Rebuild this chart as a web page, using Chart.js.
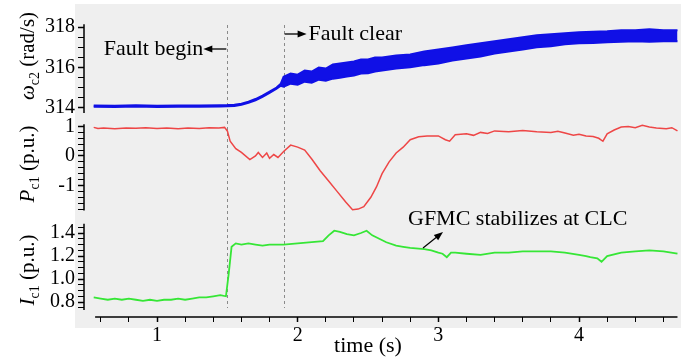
<!DOCTYPE html>
<html>
<head>
<meta charset="utf-8">
<script src="https://cdn.jsdelivr.net/npm/chart.js@4/dist/chart.umd.min.js"></script>
<style>
  html, body { margin: 0; background: #fff; }
</style>
</head>
<body>
<canvas id="grafico" width="686" height="364"></canvas>
<script>
// omega_c2 (rad/s): band of the fast oscillation, lower and upper edge
const tOmega = [0.55, 0.7, 0.85, 1.0, 1.15, 1.3, 1.45, 1.5, 1.55, 1.6, 1.65, 1.7, 1.75, 1.8, 1.85, 1.88, 1.9, 1.95, 2.0, 2.05, 2.1, 2.15, 2.2, 2.25, 2.3, 2.35, 2.4, 2.45, 2.5, 2.55, 2.6, 2.7, 2.8, 2.9, 3.0, 3.1, 3.2, 3.3, 3.4, 3.5, 3.6, 3.7, 3.8, 3.9, 4.0, 4.1, 4.2, 4.3, 4.4, 4.5, 4.6, 4.7];
const omegaLow = [314.06, 314.05, 314.07, 314.05, 314.06, 314.06, 314.07, 314.08, 314.1, 314.15, 314.25, 314.38, 314.55, 314.75, 314.95, 315.1, 315.05, 315.2, 315.15, 315.3, 315.25, 315.4, 315.35, 315.45, 315.5, 315.55, 315.6, 315.7, 315.72, 315.8, 315.85, 315.95, 316.02, 316.12, 316.2, 316.35, 316.45, 316.55, 316.7, 316.8, 316.9, 317.0, 317.05, 317.15, 317.2, 317.22, 317.25, 317.28, 317.3, 317.28, 317.3, 317.3];
const omegaHigh = [314.12, 314.11, 314.13, 314.11, 314.12, 314.12, 314.13, 314.14, 314.16, 314.21, 314.31, 314.44, 314.61, 314.81, 315.01, 315.2, 315.55, 315.7, 315.65, 315.85, 315.8, 316.0, 315.95, 316.15, 316.2, 316.25, 316.3, 316.4, 316.4, 316.5, 316.5, 316.6, 316.65, 316.8, 316.9, 317.0, 317.1, 317.2, 317.3, 317.4, 317.5, 317.6, 317.65, 317.7, 317.75, 317.78, 317.8, 317.85, 317.85, 317.9, 317.85, 317.85];

// P_c1 (p.u.)
const tP = [0.55, 0.58, 0.62, 0.7, 0.78, 0.85, 0.92, 1.0, 1.07, 1.15, 1.22, 1.3, 1.37, 1.44, 1.48, 1.5, 1.52, 1.56, 1.6, 1.66, 1.7, 1.72, 1.75, 1.78, 1.8, 1.83, 1.86, 1.9, 1.95, 2.0, 2.05, 2.1, 2.16, 2.22, 2.28, 2.34, 2.39, 2.43, 2.47, 2.52, 2.56, 2.6, 2.65, 2.7, 2.75, 2.8, 2.86, 2.92, 3.0, 3.05, 3.08, 3.12, 3.2, 3.25, 3.3, 3.35, 3.4, 3.5, 3.6, 3.7, 3.8, 3.85, 3.9, 3.96, 4.0, 4.05, 4.1, 4.14, 4.17, 4.2, 4.25, 4.3, 4.35, 4.4, 4.45, 4.5, 4.55, 4.62, 4.66, 4.7];
const pC1 = [0.97, 0.93, 0.95, 0.92, 0.95, 0.94, 0.96, 0.93, 0.95, 0.92, 0.95, 0.93, 0.96, 0.95, 0.97, 0.85, 0.5, 0.25, 0.12, -0.12, 0.0, 0.12, -0.05, 0.1, -0.08, 0.05, -0.05, 0.15, 0.37, 0.3, 0.2, -0.1, -0.5, -0.85, -1.2, -1.55, -1.82, -1.8, -1.72, -1.4, -1.05, -0.6, -0.2, 0.1, 0.3, 0.55, 0.65, 0.68, 0.68, 0.55, 0.5, 0.72, 0.75, 0.7, 0.8, 0.76, 0.85, 0.82, 0.86, 0.82, 0.8, 0.84, 0.78, 0.7, 0.74, 0.68, 0.66, 0.6, 0.5, 0.75, 0.88, 0.98, 1.0, 0.96, 1.04, 0.98, 0.95, 0.92, 0.96, 0.85];

// I_c1 (p.u.)
const tI = [0.55, 0.6, 0.65, 0.7, 0.75, 0.8, 0.85, 0.9, 0.95, 1.0, 1.05, 1.1, 1.15, 1.2, 1.25, 1.3, 1.35, 1.4, 1.45, 1.49, 1.51, 1.53, 1.56, 1.6, 1.65, 1.7, 1.75, 1.8, 1.9, 2.0, 2.1, 2.18, 2.22, 2.26, 2.3, 2.35, 2.4, 2.45, 2.49, 2.53, 2.58, 2.63, 2.7, 2.75, 2.8, 2.9, 2.95, 3.0, 3.03, 3.06, 3.09, 3.12, 3.2, 3.3, 3.4, 3.5, 3.6, 3.7, 3.8, 3.9, 4.0, 4.05, 4.08, 4.13, 4.16, 4.2, 4.3, 4.4, 4.5, 4.6, 4.7];
const iC1 = [0.84, 0.83, 0.82, 0.83, 0.82, 0.83, 0.82, 0.81, 0.82, 0.81, 0.82, 0.82, 0.83, 0.82, 0.83, 0.84, 0.84, 0.85, 0.86, 0.85, 1.05, 1.28, 1.31, 1.3, 1.31, 1.3, 1.29, 1.3, 1.3, 1.31, 1.32, 1.33, 1.38, 1.42, 1.41, 1.39, 1.38, 1.4, 1.42, 1.38, 1.35, 1.32, 1.29, 1.28, 1.27, 1.26, 1.25, 1.23, 1.22, 1.19, 1.23, 1.23, 1.22, 1.21, 1.23, 1.23, 1.24, 1.24, 1.24, 1.23, 1.21, 1.2, 1.19, 1.18, 1.15, 1.2, 1.23, 1.24, 1.25, 1.24, 1.22];

// labelled ticks
const timeTicks = [1, 2, 3, 4];
const omegaTicks = [314, 316, 318];
const pTicks = [-1, 0, 1];
const iTicks = [0.8, 1.0, 1.2, 1.4];

const faultBegin = 1.5;
const faultClear = 1.9;

const SERIF = "'Liberation Serif', 'Times New Roman', serif";
Chart.defaults.font.family = SERIF;
Chart.defaults.color = '#000';

function pares(xs, ys) {
  return xs.map((x, i) => ({ x: x, y: ys[i] }));
}

function esMayor(v, lista) {
  return lista.some(t => Math.abs(t - v) < 1e-6);
}

// filter ticks to the drawn part of the axis, and drop the auto padding
function ejeY(lista, step, min, max, lo, hi, weight, fmt) {
  return {
    type: 'linear',
    position: 'left',
    stack: 'paneles',
    stackWeight: weight,
    min: min,
    max: max,
    border: { display: false },
    grid: {
      drawOnChartArea: false,
      tickLength: 6,
      tickColor: '#000',
      tickWidth: c => (c.tick && esMayor(c.tick.value, lista)) ? 1.5 : 1
    },
    ticks: {
      stepSize: step,
      autoSkip: false,
      includeBounds: false,
      padding: 3,
      font: { size: 20 },
      callback: v => esMayor(v, lista) ? fmt(v) : ''
    },
    afterBuildTicks: s => { s.ticks = s.ticks.filter(t => t.value >= lo - 1e-9 && t.value <= hi + 1e-9); },
    afterFit: s => { s.width = 84; s.paddingTop = 0; s.paddingBottom = 0; },
    extents: [lo, hi]
  };
}

const ejes = {
  yI: ejeY(iTicks, 0.05, 0.670, 1.548, 0.73, 1.48, 101, v => v.toFixed(1)),
  yP: ejeY(pTicks, 0.2, -2.034, 1.288, -1.85, 1.08, 98, v => String(Math.round(v))),
  yW: ejeY(omegaTicks, 0.5, 313.5, 319.1, 313.75, 318.15, 113, v => String(Math.round(v))),
  x: {
    type: 'linear',
    min: 0.481,
    max: 4.725,
    border: { display: false },
    grid: {
      drawOnChartArea: false,
      tickLength: 5,
      tickColor: '#000',
      tickWidth: c => (c.tick && esMayor(c.tick.value, timeTicks)) ? 1.5 : 1
    },
    ticks: {
      stepSize: 0.2,
      autoSkip: false,
      includeBounds: false,
      maxRotation: 0,
      padding: 2,
      font: { size: 20 },
      callback: v => esMayor(v, timeTicks) ? String(Math.round(v)) : ''
    },
    afterBuildTicks: s => { s.ticks = s.ticks.filter(t => t.value > 0.58 && t.value < 4.62); },
    afterFit: s => { s.height = 47; s.paddingLeft = 0; s.paddingRight = 0; }
  }
};

function texto(ctx, partes, cx, cy, rot) {
  ctx.save();
  ctx.translate(cx, cy);
  if (rot) ctx.rotate(-Math.PI / 2);
  ctx.textBaseline = 'alphabetic';
  ctx.textAlign = 'left';
  let total = 0;
  partes.forEach(p => { ctx.font = p.f; p.w = ctx.measureText(p.t).width; total += p.w; });
  let x = -total / 2;
  partes.forEach(p => {
    ctx.font = p.f;
    ctx.fillText(p.t, x, 7 + (p.dy || 0));
    x += p.w;
  });
  ctx.restore();
}

function flecha(ctx, x1, y1, x2, y2) {
  const a = Math.atan2(y2 - y1, x2 - x1);
  const L = 9, W = 3.5;
  ctx.save();
  ctx.strokeStyle = '#000';
  ctx.fillStyle = '#000';
  ctx.lineWidth = 1.3;
  ctx.beginPath();
  ctx.moveTo(x1, y1);
  ctx.lineTo(x2 - Math.cos(a) * L * 0.8, y2 - Math.sin(a) * L * 0.8);
  ctx.stroke();
  ctx.beginPath();
  ctx.moveTo(x2, y2);
  ctx.lineTo(x2 - Math.cos(a) * L - Math.sin(a) * W, y2 - Math.sin(a) * L + Math.cos(a) * W);
  ctx.lineTo(x2 - Math.cos(a) * L + Math.sin(a) * W, y2 - Math.sin(a) * L - Math.cos(a) * W);
  ctx.closePath();
  ctx.fill();
  ctx.restore();
}

const decoracion = {
  id: 'decoracion',
  beforeDraw(chart) {
    const ctx = chart.ctx;
    const a = chart.chartArea;
    ctx.save();
    ctx.fillStyle = '#efefef';
    ctx.fillRect(a.left - 9, a.top - 1, a.right - a.left + 9, 328 - a.top + 1);
    ctx.restore();
  },
  beforeDatasetsDraw(chart) {
    const ctx = chart.ctx;
    const x = chart.scales.x;
    ctx.save();
    ctx.strokeStyle = '#8a8a8a';
    ctx.lineWidth = 1;
    ctx.setLineDash([3, 3]);
    [faultBegin, faultClear].forEach(t => {
      const px = Math.round(x.getPixelForValue(t)) + 0.5;
      ctx.beginPath();
      ctx.moveTo(px, 25);
      ctx.lineTo(px, 308);
      ctx.stroke();
    });
    ctx.restore();
  },
  afterDraw(chart) {
    const ctx = chart.ctx;
    const s = chart.scales;
    ctx.save();
    ctx.strokeStyle = '#000';
    ctx.lineWidth = 1.5;
    // y axis lines, one per panel
    ['yW', 'yP', 'yI'].forEach(id => {
      const sc = s[id];
      const [lo, hi] = sc.options.extents;
      const px = chart.chartArea.left;
      ctx.beginPath();
      ctx.moveTo(px, sc.getPixelForValue(hi));
      ctx.lineTo(px, sc.getPixelForValue(lo));
      ctx.stroke();
    });
    // x axis line
    const y0 = chart.chartArea.bottom;
    ctx.beginPath();
    ctx.moveTo(s.x.getPixelForValue(0.56), y0);
    ctx.lineTo(s.x.getPixelForValue(4.70), y0);
    ctx.stroke();
    ctx.restore();

    ctx.save();
    ctx.fillStyle = '#000';
    const R = '21px ' + SERIF, I = 'italic 21px ' + SERIF, S = '14px ' + SERIF;
    texto(ctx, [{ t: 'ω', f: I }, { t: 'c2', f: S, dy: 5 }, { t: ' (rad/s)', f: R }], 27, 56, true);
    texto(ctx, [{ t: 'P', f: I }, { t: 'c1', f: S, dy: 5 }, { t: ' (p.u.)', f: R }], 27, 164, true);
    texto(ctx, [{ t: 'I', f: I }, { t: 'c1', f: S, dy: 5 }, { t: ' (p.u.)', f: R }], 27, 270, true);
    texto(ctx, [{ t: 'time (s)', f: '22px ' + SERIF }], 368, 345, false);

    const xb = s.x.getPixelForValue(faultBegin);
    const xc = s.x.getPixelForValue(faultClear);
    ctx.font = '22px ' + SERIF;
    ctx.textBaseline = 'middle';
    ctx.textAlign = 'right';
    ctx.fillText('Fault begin', xb - 24, 49);
    flecha(ctx, xb - 1, 49, xb - 24, 49);
    flecha(ctx, xc + 1, 34, xc + 23, 34);
    ctx.textAlign = 'left';
    ctx.fillText('Fault clear', xc + 25, 34);
    ctx.fillText('GFMC stabilizes at CLC', 408, 219);
    flecha(ctx, 423, 248, 443, 232);
    ctx.restore();
  }
};

new Chart(document.getElementById('grafico'), {
  type: 'line',
  data: {
    datasets: [
      {
        label: 'omega low',
        data: pares(tOmega, omegaLow),
        yAxisID: 'yW',
        borderColor: '#1010e6',
        borderWidth: 2,
        pointRadius: 0,
        fill: false
      },
      {
        label: 'omega high',
        data: pares(tOmega, omegaHigh),
        yAxisID: 'yW',
        borderColor: '#1010e6',
        backgroundColor: '#1010e6',
        borderWidth: 2,
        pointRadius: 0,
        fill: '-1'
      },
      {
        label: 'P_c1',
        data: pares(tP, pC1),
        yAxisID: 'yP',
        borderColor: '#ee4646',
        borderWidth: 1.5,
        pointRadius: 0
      },
      {
        label: 'I_c1',
        data: pares(tI, iC1),
        yAxisID: 'yI',
        borderColor: '#36e636',
        borderWidth: 1.8,
        pointRadius: 0
      }
    ]
  },
  options: {
    responsive: false,
    animation: false,
    devicePixelRatio: 1,
    layout: { padding: { top: 5, right: 5, left: 0, bottom: 0 } },
    plugins: {
      legend: { display: false },
      tooltip: { enabled: false }
    },
    scales: ejes
  },
  plugins: [decoracion]
});
</script>
</body>
</html>
